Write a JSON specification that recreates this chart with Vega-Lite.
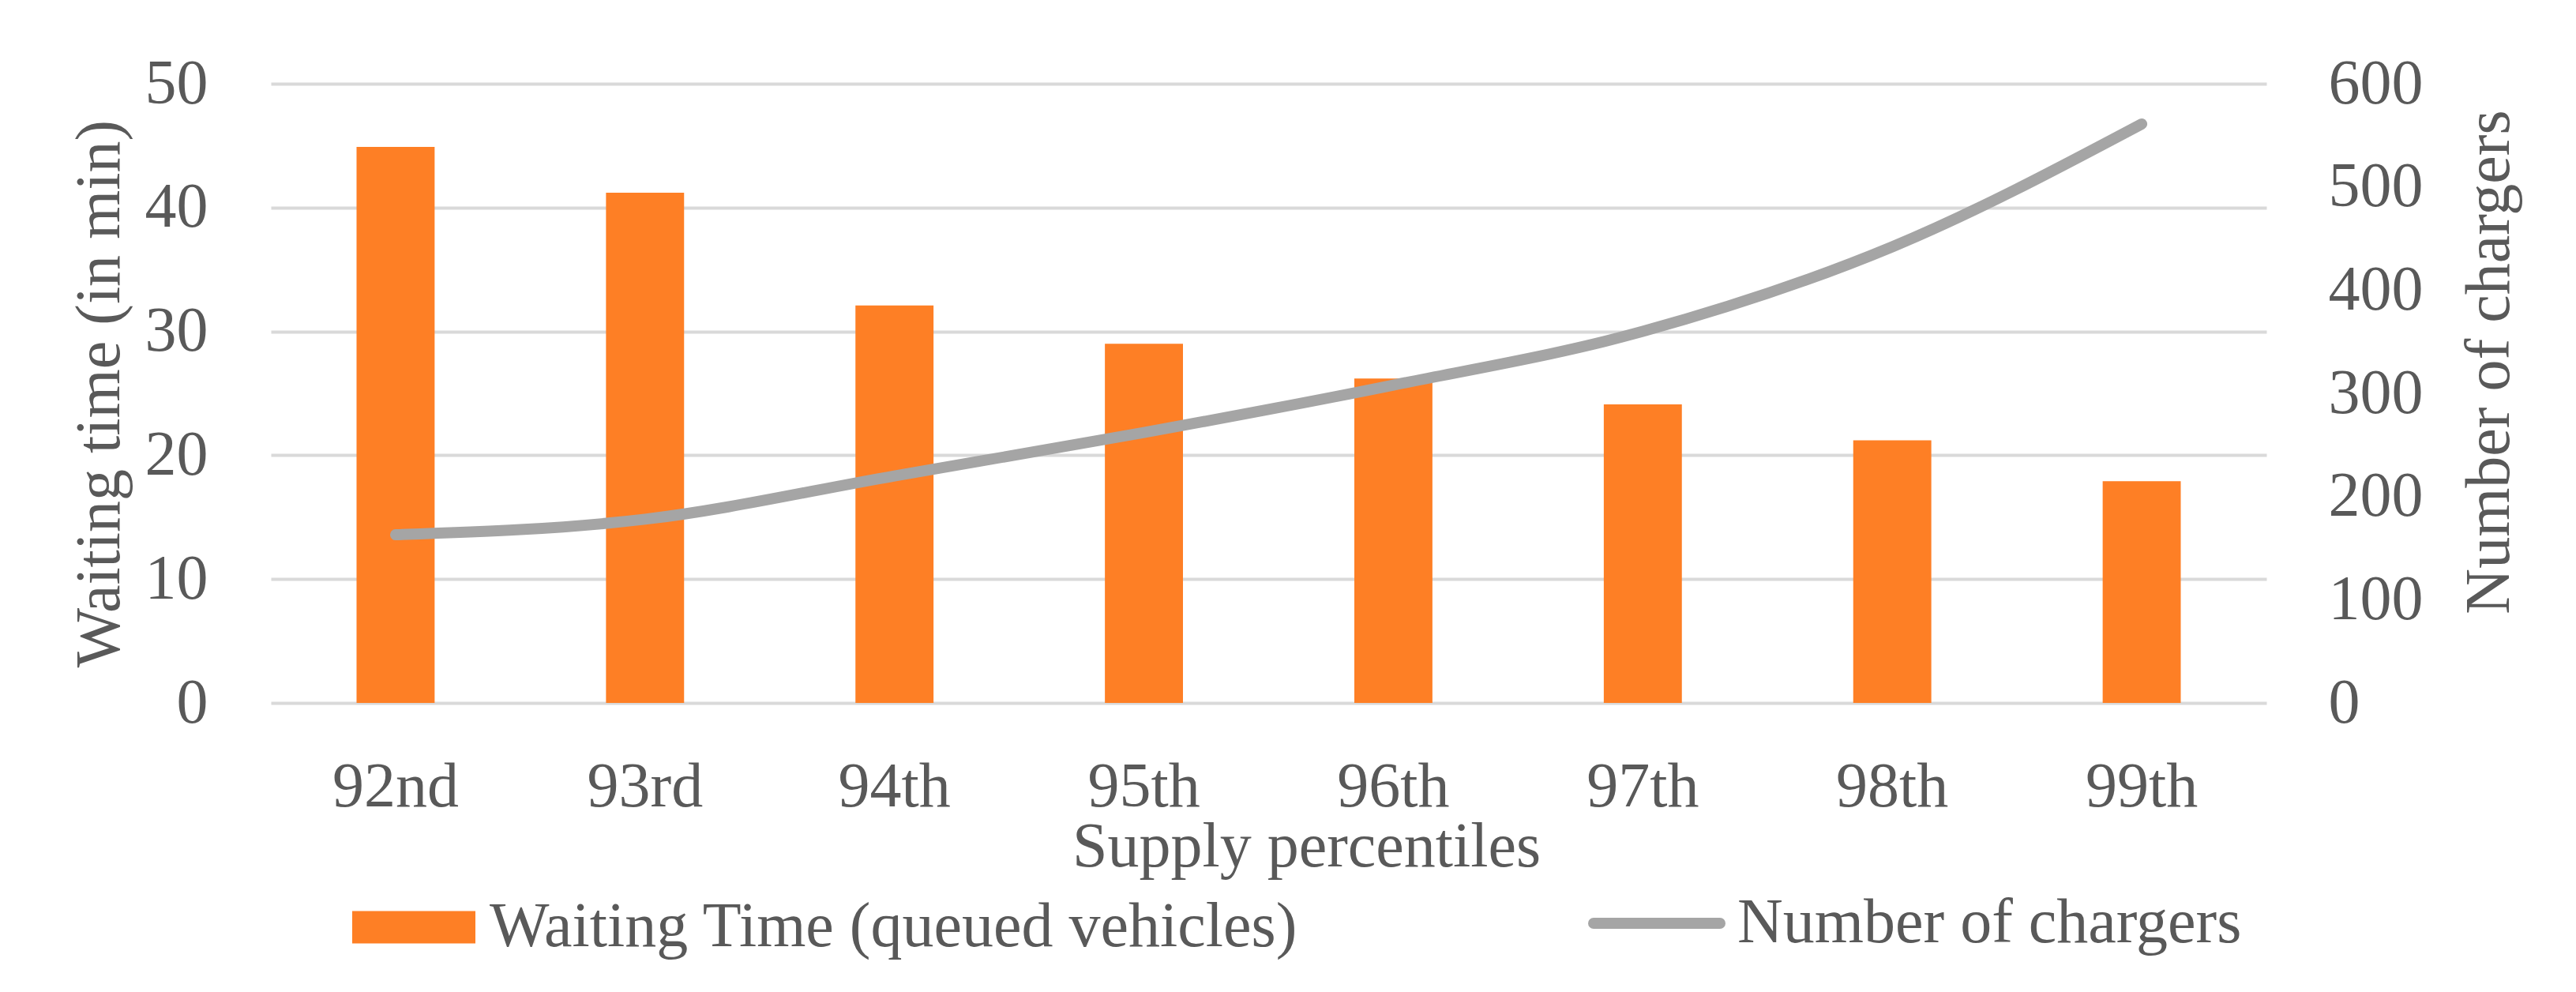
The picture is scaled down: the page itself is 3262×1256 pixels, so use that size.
{
  "$schema": "https://vega.github.io/schema/vega-lite/v6.json",
  "width": 2527,
  "height": 784,
  "autosize": {"type": "none"},
  "padding": {"left": 343, "top": 106, "right": 392, "bottom": 366},
  "background": "white",
  "config": {
    "view": {"stroke": null},
    "font": "Liberation Serif",
    "axis": {
      "labelFont": "Liberation Serif",
      "titleFont": "Liberation Serif",
      "labelFontSize": 80,
      "titleFontSize": 80,
      "titleFontWeight": "normal",
      "labelColor": "#595959",
      "titleColor": "#595959",
      "ticks": false,
      "domain": false
    },
    "legend": {
      "labelFont": "Liberation Serif",
      "labelFontSize": 80,
      "labelColor": "#595959",
      "labelLimit": 3000,
      "padding": 0
    }
  },
  "data": {
    "values": [
      {"p": "92nd", "wait": 44.9, "chargers": 163},
      {"p": "93rd", "wait": 41.2, "chargers": 178},
      {"p": "94th", "wait": 32.1, "chargers": 220},
      {"p": "95th", "wait": 29.0, "chargers": 262},
      {"p": "96th", "wait": 26.2, "chargers": 308},
      {"p": "97th", "wait": 24.1, "chargers": 360},
      {"p": "98th", "wait": 21.2, "chargers": 442},
      {"p": "99th", "wait": 17.9, "chargers": 561}
    ]
  },
  "encoding": {
    "x": {
      "field": "p",
      "type": "ordinal",
      "sort": null,
      "scale": {"paddingInner": 0.687, "paddingOuter": 0.3435},
      "axis": {
        "title": "Supply percentiles",
        "labelAngle": 0,
        "labelPadding": 67,
        "titlePadding": -3,
        "titleX": 1311,
        "grid": false
      }
    }
  },
  "layer": [
    {
      "mark": {"type": "bar"},
      "encoding": {
        "y": {
          "field": "wait",
          "type": "quantitative",
          "scale": {"domain": [0, 50]},
          "axis": {
            "title": "Waiting time (in min)",
            "values": [0, 10, 20, 30, 40, 50],
            "grid": true,
            "gridColor": "#d9d9d9",
            "gridWidth": 4,
            "labelPadding": 80,
            "titlePadding": 16
          }
        },
        "fill": {
          "datum": "Waiting Time (queued vehicles)",
          "type": "nominal",
          "scale": {"range": ["#fe7f25"]},
          "legend": {
            "orient": "none",
            "legendX": 103,
            "legendY": 990,
            "title": null,
            "symbolType": "M-1,-0.263H1V0.263H-1Z",
            "symbolSize": 24336,
            "symbolStrokeWidth": 0,
            "labelOffset": 18
          }
        }
      }
    },
    {
      "mark": {"type": "line", "strokeWidth": 14, "interpolate": "monotone", "strokeCap": "round", "strokeJoin": "round"},
      "encoding": {
        "y": {
          "field": "chargers",
          "type": "quantitative",
          "scale": {"domain": [0, 600]},
          "axis": {
            "orient": "right",
            "title": "Number of chargers",
            "values": [0, 100, 200, 300, 400, 500, 600],
            "grid": false,
            "labelPadding": 78,
            "titleAngle": 270,
            "titleBaseline": "top",
            "titlePadding": 45,
            "titleY": 352
          }
        },
        "stroke": {
          "datum": "Number of chargers",
          "type": "nominal",
          "scale": {"range": ["#a5a5a5"]},
          "legend": {
            "orient": "none",
            "legendX": 1668,
            "legendY": 976,
            "title": null,
            "symbolType": "stroke",
            "symbolSize": 25600,
            "symbolStrokeWidth": 14,
            "labelOffset": 15,
            "encode": {"symbols": {"update": {"strokeCap": {"value": "round"}}}}
          }
        }
      }
    }
  ],
  "resolve": {"scale": {"y": "independent"}}
}
